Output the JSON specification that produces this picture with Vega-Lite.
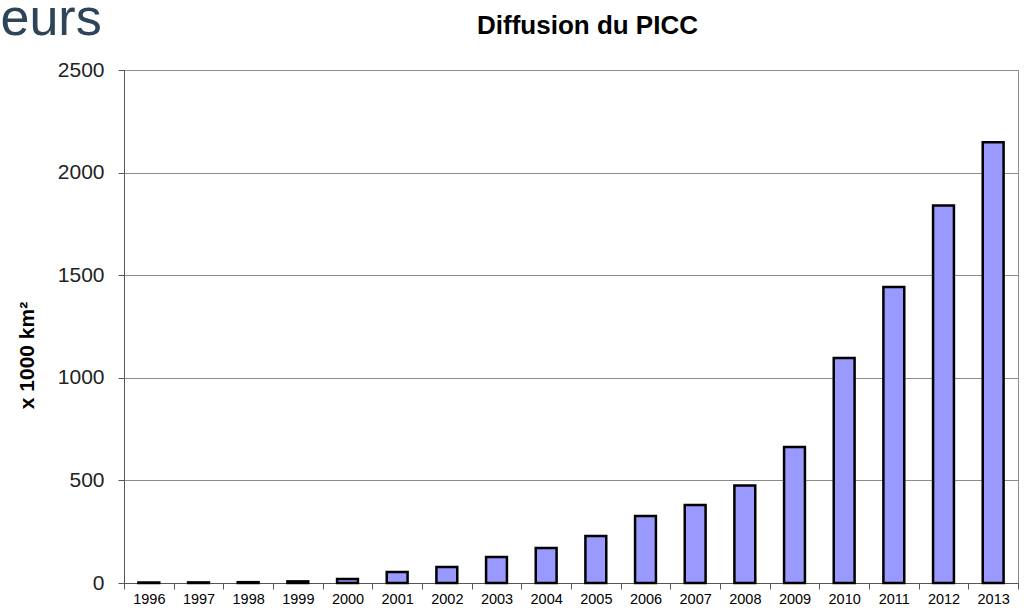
{
  "$schema": "https://vega.github.io/schema/vega-lite/v6.json",
  "width": 894,
  "height": 513,
  "autosize": "none",
  "padding": {"left": 124, "top": 70, "right": 11, "bottom": 25},
  "background": "white",
  "config": {
    "view": {"stroke": "#8c8c8c", "strokeWidth": 1},
    "font": "Liberation Sans"
  },
  "data": {
    "values": [
      {"year": "1996", "value": 2},
      {"year": "1997", "value": 3},
      {"year": "1998", "value": 4},
      {"year": "1999", "value": 8},
      {"year": "2000", "value": 20},
      {"year": "2001", "value": 54},
      {"year": "2002", "value": 78},
      {"year": "2003", "value": 127},
      {"year": "2004", "value": 170},
      {"year": "2005", "value": 229},
      {"year": "2006", "value": 326},
      {"year": "2007", "value": 380},
      {"year": "2008", "value": 475},
      {"year": "2009", "value": 663},
      {"year": "2010", "value": 1097},
      {"year": "2011", "value": 1443},
      {"year": "2012", "value": 1840},
      {"year": "2013", "value": 2148}
    ]
  },
  "layer": [
    {
      "mark": {"type": "bar", "fill": "#9999ff", "stroke": "#000000", "strokeWidth": 2.5, "width": {"band": 0.42}},
      "encoding": {
        "x": {
          "field": "year",
          "type": "ordinal",
          "scale": {"paddingInner": 0, "paddingOuter": 0},
          "axis": {
            "orient": "bottom",
            "title": null,
            "labelAngle": 0,
            "labelFontSize": 14.5,
            "labelColor": "#000000",
            "tickBand": "extent",
            "tickSize": 6,
            "tickColor": "#555555",
            "domainColor": "#555555",
            "labelPadding": 3,
            "grid": false
          }
        },
        "y": {
          "field": "value",
          "type": "quantitative",
          "scale": {"domain": [0, 2500], "nice": false},
          "axis": {
            "values": [0, 500, 1000, 1500, 2000, 2500],
            "format": "d",
            "title": "x 1000 km²",
            "titleFontSize": 21,
            "titleFontWeight": "bold",
            "titleColor": "#000000",
            "titleAngle": 270,
            "titleAlign": "center",
            "titleBaseline": "middle",
            "titleX": -97,
            "titleY": 285,
            "labelFontSize": 21,
            "labelColor": "#222222",
            "labelPadding": 14,
            "tickSize": 6,
            "tickColor": "#555555",
            "domainColor": "#555555",
            "grid": true,
            "gridColor": "#8c8c8c",
            "gridOpacity": 1
          }
        }
      }
    },
    {
      "mark": {"type": "rule", "opacity": 0},
      "encoding": {
        "x": {
          "field": "year",
          "type": "ordinal",
          "axis": {
            "orient": "top",
            "title": "eurs",
            "labels": false,
            "ticks": false,
            "domain": false,
            "grid": false,
            "titleX": -124,
            "titleY": -36,
            "titleAlign": "left",
            "titleBaseline": "alphabetic",
            "titleFontSize": 52,
            "titleFontWeight": "normal",
            "titleColor": "#2e4459"
          }
        }
      }
    },
    {
      "mark": {"type": "rule", "opacity": 0},
      "encoding": {
        "x": {
          "field": "year",
          "type": "ordinal",
          "axis": {
            "orient": "top",
            "title": "Diffusion du PICC",
            "labels": false,
            "ticks": false,
            "domain": false,
            "grid": false,
            "titleX": 463,
            "titleY": -37,
            "titleAlign": "center",
            "titleBaseline": "alphabetic",
            "titleFontSize": 26,
            "titleFontWeight": "bold",
            "titleColor": "#000000"
          }
        }
      }
    }
  ],
  "resolve": {"axis": {"x": "independent"}}
}
